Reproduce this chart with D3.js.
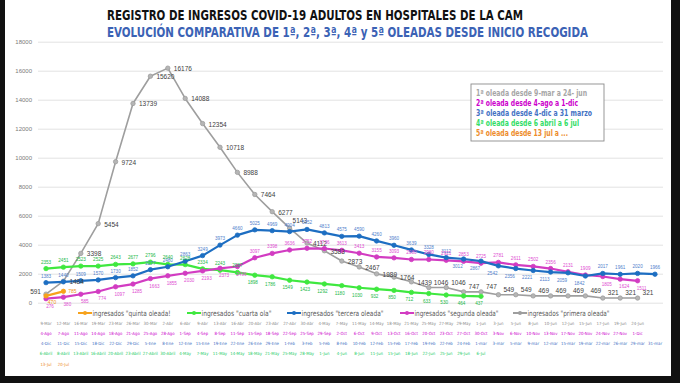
<!DOCTYPE html>
<html><head><meta charset="utf-8">
<script src="https://cdn.jsdelivr.net/npm/d3@7"></script>
<style>html,body{margin:0;padding:0;background:#fff;} svg{display:block;}</style>
</head><body>
<svg id="c" width="680" height="383"></svg>
<script>
// ---------- DATA ----------
const primeraFechas = ["9-Mar","12-Mar","16-Mar","19-Mar","23-Mar","26-Mar","30-Mar","2-Abr","6-Abr","9-Abr","13-Abr","16-Abr","20-Abr","23-Abr","27-Abr","30-Abr","4-May","7-May","11-May","14-May","18-May","21-May","25-May","27-May","29-May","1-Jun","3-Jun","5-Jun","8-Jun","10-Jun","12-Jun","15-Jun","17-Jun","19-Jun","24-Jun"];
const segundaFechas = ["4-Ago","7-Ago","11-Ago","14-Ago","18-Ago","21-Ago","25-Ago","28-Ago","1-Sep","4-Sep","8-Sep","11-Sep","15-Sep","18-Sep","22-Sep","25-Sep","29-Sep","2-Oct","6-Oct","9-Oct","13-Oct","16-Oct","20-Oct","23-Oct","27-Oct","30-Oct","3-Nov","6-Nov","10-Nov","13-Nov","17-Nov","20-Nov","24-Nov","27-Nov","1-Dic"];
const terceraFechas = ["4-Dic","11-Dic","15-Dic","18-Dic","22-Dic","29-Dic","5-Ene","8-Ene","12-Ene","15-Ene","19-Ene","22-Ene","26-Ene","29-Ene","1-Feb","3-Feb","5-Feb","8-Feb","10-Feb","12-Feb","15-Feb","17-Feb","19-Feb","22-Feb","24-Feb","1-mar","3-mar","5-mar","9-mar","12-mar","15-mar","19-mar","22-mar","26-mar","29-mar","31-mar"];
const cuartaFechas = ["6-Abril","8-Abril","13-Abril","16-Abril","20-Abril","23-Abril","27-Abril","30-Abril","4-May","7-May","11-May","14-May","18-May","21-May","25-May","28-May","1-Jun","4-Jun","8-Jun","11-Jun","15-Jun","18-Jun","22-Jun","25-Jun","29-Jun","6-Jul"];
const quintaFechas = ["13-Jul","20-Jul"];

const primera = [591,1484,3398,5454,9724,13739,15620,16176,14088,12354,10718,8988,7464,6277,5143,4112,3583,2873,2467,1989,1764,1439,1046,1046,747,747,549,549,469,469,469,469,321,321,321];
const segunda = [276,380,585,774,1097,1285,1663,1855,2030,2193,2373,2496,3097,3398,3636,3752,3736,3613,3413,3155,3093,2980,2980,2921,2853,2725,2781,2611,2502,2356,2131,1909,1805,1624,1511];
const tercera = [1383,1440,1509,1570,1730,1852,2277,2480,2863,3249,3973,4660,5025,4969,4904,5052,4813,4575,4590,4260,3960,3639,3328,3112,3012,2867,2542,2356,2221,2113,2059,1842,2017,1961,2020,1966];
const cuarta = [2353,2451,2523,2525,2643,2677,2796,2640,2628,2334,2243,2087,1898,1786,1549,1423,1292,1180,1030,932,850,712,633,530,464,437];
const quinta = [470,785];

const yTicks = [0,2000,4000,6000,8000,10000,12000,14000,16000,18000];
const titulo1 = "REGISTRO DE INGRESOS COVID-19 ADULTOS  EN HOSPITALES DE LA CAM";
const titulo2 = "EVOLUCIÓN COMPARATIVA DE 1ª, 2ª, 3ª, 4ª y 5ª OLEADAS DESDE INICIO RECOGIDA";
const notas = ["1ª oleada desde 9-mar a 24- jun","2ª oleada desde 4-ago a 1-dic","3ª oleada desde 4-dic a 31 marzo","4ª oleada desde 6 abril a 6 jul","5ª oleada desde 13 jul a ..."];
const leyendaNombres = ["ingresados \"quinta oleada!","ingresados \"cuarta ola\"","ingresados \"tercera oleada\"","ingresados \"segunda oleada\"","ingresados \"primera oleada\""];

// ---------- CHART ----------
const svg = d3.select("#c");
const C = {gray:"#9e9e9e", mag:"#d23cc2", blue:"#1d6ec2", green:"#3fe83f", orange:"#f6a21c"};
const LC = {gray:"#404040", mag:"#e04cd2", blue:"#5080cc", green:"#22b848", orange:"#ee9020"};

const x = d3.scalePoint().domain(d3.range(36)).range([46, 655]);
const y = d3.scaleLinear().domain([0,18000]).range([302.7, 41.7]);

svg.append("rect").attr("width",680).attr("height",383).attr("fill","#fff");

// grid + y axis
const ga = svg.append("g").attr("transform","translate(38,0)")
  .call(d3.axisLeft(y).tickValues(yTicks).tickSize(-625).tickPadding(6).tickFormat(d3.format("d")));
ga.select(".domain").remove();
ga.selectAll(".tick line").attr("stroke","#dcdcdc").attr("stroke-width",0.8);
ga.selectAll(".tick text").attr("fill","#7a7a7a").attr("font-size","6px").attr("font-family","Liberation Sans, Arial, sans-serif");

// titles
svg.append("text").attr("x",107).attr("y",20).attr("textLength",416).attr("lengthAdjust","spacingAndGlyphs")
  .attr("font-family","Liberation Sans Narrow, DejaVu Sans Condensed, sans-serif").attr("font-weight","bold")
  .attr("font-size","14px").attr("fill","#111").text(titulo1);
svg.append("text").attr("x",107).attr("y",37).attr("textLength",481).attr("lengthAdjust","spacingAndGlyphs")
  .attr("font-family","Liberation Sans Narrow, DejaVu Sans Condensed, sans-serif").attr("font-weight","bold")
  .attr("font-size","13.5px").attr("fill","#3b62b5").text(titulo2);

const line = d3.line().x((d,i)=>x(i)).y(d=>y(d));

function series(vals, color, width, r, markerFill){
  const g = svg.append("g");
  g.append("path").datum(vals).attr("d",line).attr("fill","none").attr("stroke",color)
   .attr("stroke-width",width).attr("stroke-linejoin","round");
  g.selectAll("circle").data(vals).join("circle").attr("cx",(d,i)=>x(i)).attr("cy",d=>y(d))
   .attr("r",r).attr("fill",markerFill||color).attr("stroke",color).attr("stroke-width",0.8);
  return g;
}
function labels(vals, color, size, place){
  svg.append("g").selectAll("text").data(vals).join("text")
   .attr("x",(d,i)=>x(i)+place(i)[0]).attr("y",(d,i)=>y(d)+place(i)[1])
   .attr("text-anchor",(d,i)=>place(i)[2]||"middle")
   .attr("font-family","Liberation Sans, Arial, sans-serif").attr("font-size",size).attr("fill",color)
   .text(d=>d);
}

series(primera, C.gray, 1.6, 2.2, "#b5b5b5");
series(cuarta, C.green, 2.2, 2.2);
series(segunda, C.mag, 2.2, 2.2);
series(tercera, C.blue, 2.2, 2.2);
series(quinta, C.orange, 2.2, 2.2);

labels(primera, LC.gray, "6.5px", i => i===0 ? [-5,0,"end"] : (i===14 ? [3,-5,"start"] : (i>=22 ? [5,-3,"start"] : [6,3,"start"])));
labels(tercera, LC.blue, "4.6px", i => (i>=24 && i<=31) ? [-6,9] : [0,-5]);
labels(segunda, LC.mag, "4.6px", i => (i<=11 || i>=32) ? [4,9] : [0,-5]);
labels(cuarta, LC.green, "4.6px", i => i<=11 ? [0,-5] : [-2,9]);
labels(quinta, LC.orange, "5px", i => i===0 ? [6,8] : [9,2]);

// legend row
const legItems = [
  {c:C.orange, x0:78, w:78},
  {c:C.green, x0:187, w:70},
  {c:C.blue, x0:287, w:82},
  {c:C.mag, x0:400, w:84},
  {c:C.gray, x0:513, w:82}
];
const lg = svg.append("g");
legItems.forEach((it,k)=>{
  lg.append("line").attr("x1",it.x0).attr("x2",it.x0+14).attr("y1",313).attr("y2",313).attr("stroke",it.c).attr("stroke-width",2);
  lg.append("circle").attr("cx",it.x0+7).attr("cy",313).attr("r",2).attr("fill",it.c);
  lg.append("text").attr("x",it.x0+14.5).attr("y",315.6).attr("textLength",it.w).attr("lengthAdjust","spacingAndGlyphs")
    .attr("font-family","Liberation Sans Narrow, DejaVu Sans Condensed, sans-serif").attr("font-size","7.5px").attr("fill","#595959")
    .text(leyendaNombres[k]);
});

// category rows
const rows = [
  {d:primeraFechas, c:"#8a8a8a", y:325},
  {d:segundaFechas, c:"#cc00cc", y:334.5},
  {d:terceraFechas, c:"#4472c4", y:345},
  {d:cuartaFechas, c:"#22cc66", y:354.5},
  {d:quintaFechas, c:"#ed8b2a", y:366}
];
rows.forEach(r=>{
  svg.append("g").selectAll("text").data(r.d).join("text")
    .attr("x",(d,i)=>x(i)).attr("y",r.y).attr("text-anchor","middle")
    .attr("font-family","DejaVu Sans Condensed, Liberation Sans Narrow, sans-serif").attr("font-size","4.3px")
    .attr("fill",r.c).text(d=>d);
});

// notes box
const nb = svg.append("g");
nb.append("rect").attr("x",471).attr("y",84).attr("width",133).attr("height",57).attr("fill","#fff").attr("stroke","#8c8c8c").attr("stroke-width",0.9);
const notaCol = ["#a6a6a6","#cc00cc","#4472c4","#33dd66","#ed8b2a"];
const notaW = [111,102,116,103,92];
notas.forEach((t,k)=>{
  nb.append("text").attr("x",476).attr("y",95.5+k*10).attr("textLength",notaW[k]).attr("lengthAdjust","spacingAndGlyphs")
    .attr("font-family","Liberation Sans Narrow, DejaVu Sans Condensed, sans-serif").attr("font-weight","bold")
    .attr("font-size","8px").attr("fill",notaCol[k]).text(t);
});

// dark screenshot borders
svg.append("rect").attr("x",0).attr("y",0).attr("width",5).attr("height",383).attr("fill","#111");
svg.append("rect").attr("x",671).attr("y",0).attr("width",9).attr("height",383).attr("fill","#111");
svg.append("rect").attr("x",0).attr("y",376).attr("width",680).attr("height",7).attr("fill","#111");
</script>
</body></html>
